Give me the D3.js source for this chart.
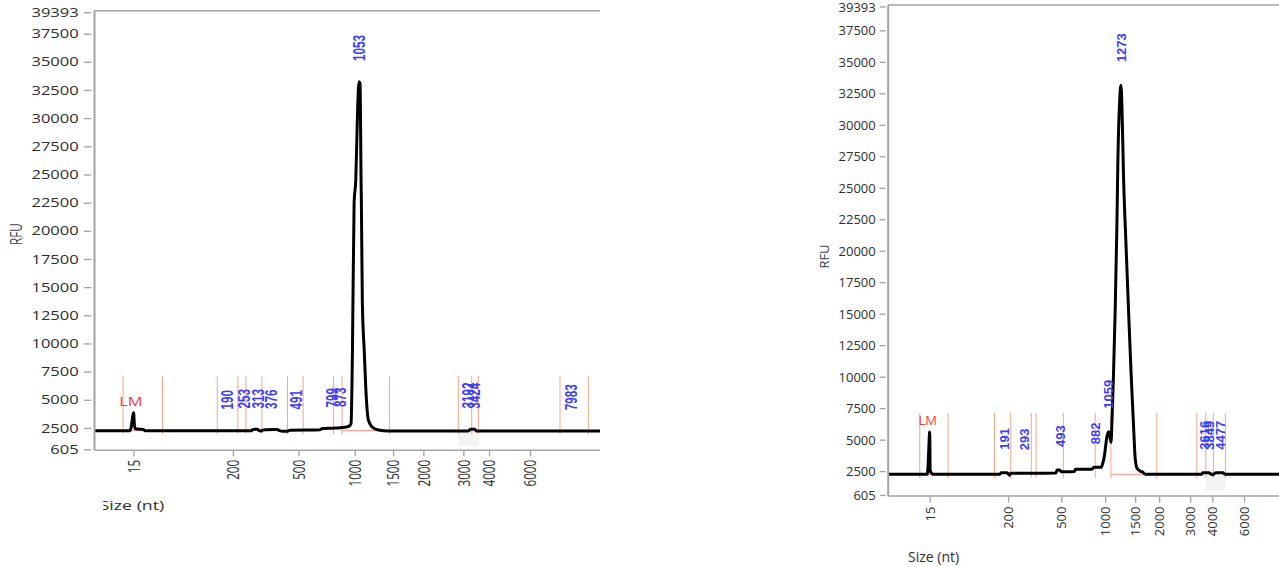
<!DOCTYPE html>
<html>
<head>
<meta charset="utf-8">
<script src="https://cdn.jsdelivr.net/npm/d3@7"></script>
<style>
  html, body { margin: 0; padding: 0; background: #ffffff; }
  svg { display: block; }
</style>
</head>
<body>
<svg id="chart" width="1279" height="567"></svg>
<script>
// ---- shared axis ticks ----
const rfuTicks = [605, 2500, 5000, 7500, 10000, 12500, 15000, 17500, 20000, 22500,
                  25000, 27500, 30000, 32500, 35000, 37500, 39393];
const sizeTicks = [15, 200, 500, 1000, 1500, 2000, 3000, 4000, 6000];
const rfuRange = [605, 39393];
const markerSpan = [1950, 7120];   // RFU span of the peak-boundary marks

// ---- run A: ladder calibration (size -> relative migration position) ----
const ladderSizeA = [0, 15, 200, 500, 1000, 1500, 2000, 3000, 4000, 6000];
const ladderPosA  = [0, 0.0771, 0.2737, 0.4034, 0.5149, 0.5907, 0.6506, 0.7297, 0.7805, 0.8616];

// run A trace: [size nt, RFU]
const traceA = [
  [0, 2256], [13.6, 2256], [14.2, 2650], [14.6, 3350], [15, 3850], [15.5, 3780], [16.3, 3050],
  [17.3, 2560], [18.8, 2430], [26, 2390], [33, 2370], [37, 2256],
  [286, 2256], [291, 2370], [312, 2385], [319, 2290], [326, 2225], [336, 2300], [348, 2350],
  [402, 2355], [414, 2260], [428, 2205], [450, 2215], [462, 2300], [600, 2310], [692, 2330],
  [706, 2430], [805, 2480], [875, 2520], [930, 2580], [956, 2700], [967, 2913], [979, 9126],
  [994, 22440], [1013, 24508], [1038, 31000], [1056, 33233], [1069, 33091], [1082, 24508],
  [1086, 22470], [1099, 13590], [1125, 9126], [1143, 6161], [1177, 3206], [1222, 2611],
  [1308, 2318], [1438, 2230],
  [3180, 2230], [3280, 2380], [3440, 2375], [3520, 2230], [9600, 2230]
];
const peakSizeA = [190, 253, 313, 376, 491, 799, 873, 1053, 3192, 3424, 7983];
const peakRfuA  = [2300, 2380, 2385, 2355, 2310, 2480, 2520, 33233, 2380, 2375, 2230];
const boundsA   = [11, 69, 171, 223, 260, 333, 450, 542, 812, 887, 1452, 2875, 3327, 3584, 7463, 8844];
const peakBaseA = [[11, 69], [887, 1452]];
const baseRfuA  = 2256;
const smearA    = [2875, 3584];
const markerA   = { size: 15, rfu: 3850, label: "LM" };

// ---- run B ----
const ladderSizeB = [0, 15, 200, 500, 1000, 1500, 2000, 3000, 4000, 6000];
const ladderPosB  = [0, 0.1063, 0.3067, 0.4429, 0.5553, 0.6320, 0.6933, 0.7726, 0.8296, 0.9106];

const traceB = [
  [0, 2247], [14.1, 2247], [14.4, 2950], [14.7, 4500], [14.95, 5600], [15.2, 5250], [15.6, 3380],
  [16, 2590], [17, 2450], [19.5, 2330], [22.3, 2247],
  [180, 2247], [184, 2374], [198, 2374], [203, 2250], [209, 2168], [215, 2326], [340, 2326],
  [470, 2345], [476, 2588], [490, 2588], [500, 2453], [570, 2453], [650, 2475], [660, 2643],
  [850, 2643], [870, 2802], [955, 2802], [975, 3200], [989, 3643], [1010, 4600], [1028, 5229],
  [1045, 5520], [1056, 5626], [1066, 5520], [1080, 5200], [1097, 4800], [1112, 6419],
  [1138, 10123], [1167, 15414], [1195, 22021], [1212, 27313], [1240, 31800], [1262, 33150],
  [1280, 31300], [1305, 25987], [1345, 20697], [1388, 15414], [1433, 10123], [1472, 6157],
  [1500, 3516], [1540, 2723], [1600, 2520], [1660, 2420], [1710, 2247],
  [3524, 2247], [3560, 2374], [3850, 2374], [3920, 2290], [4025, 2220], [4110, 2300],
  [4233, 2374], [4656, 2374], [4801, 2247], [9000, 2247]
];
const peakSizeB = [191, 293, 493, 882, 1059, 1273, 3616, 3849, 4477];
const peakRfuB  = [2374, 2326, 2588, 2802, 5626, 33150, 2374, 2374, 2374];
const boundsB   = [11.4, 58.4, 168, 215, 331, 358, 523, 886, 1095, 1952, 3300, 3704, 4063, 4820];
const peakBaseB = [[11.4, 58.4], [1095, 1952]];
const baseRfuB  = 2247;
const smearB    = [3704, 4820];
const markerB   = { size: 15, rfu: 5600, label: "LM" };

// ---- layout of the two panels ----
const panels = [
  { id: "a", x0: 94.5, x1: 600, yTop: 12.3, yBot: 449.3, sx: 1.27, sy: 0.9,
    ladder: ladderSizeA, pos: ladderPosA, trace: traceA, peaks: peakSizeA, peakRfu: peakRfuA,
    bounds: boundsA, peakBase: peakBaseA, baseRfu: baseRfuA, smear: smearA, marker: markerA,
    rfuLabel: [16, 234], sizeLabel: [99.5, 509.5], sizeClip: 103.3 },
  { id: "b", x0: 888.2, x1: 1279, yTop: 6.5, yBot: 495, sx: 1, sy: 1,
    ladder: ladderSizeB, pos: ladderPosB, trace: traceB, peaks: peakSizeB, peakRfu: peakRfuB,
    bounds: boundsB, peakBase: peakBaseB, baseRfu: baseRfuB, smear: smearB, marker: markerB,
    rfuLabel: [824, 256.5], sizeLabel: [908, 561.5], sizeClip: null }
];

const svg = d3.select("#chart");
const defs = svg.append("defs");
const axisColor = "#a3a3a3";
const tickTextColor = "#2e2e2e";
const uiFont = "'Open Sans', 'Noto Sans', sans-serif";

panels.forEach(p => {
  const w = p.x1 - p.x0;
  const x = d3.scaleLinear().domain(p.ladder).range(p.pos.map(f => p.x0 + f * w));
  const y = d3.scaleLinear().domain(rfuRange).range([p.yBot, p.yTop]);
  const g = svg.append("g").attr("class", "panel-" + p.id);
  const tx = (px, py, rot) => `translate(${px},${py}) scale(${p.sx},${p.sy})` + (rot ? " rotate(-90)" : "");

  defs.append("clipPath").attr("id", "plot-" + p.id)
    .append("rect").attr("x", p.x0).attr("y", p.yTop - 4).attr("width", w).attr("height", p.yBot - p.yTop + 4);

  // shaded smear region
  g.append("rect")
    .attr("x", x(p.smear[0])).attr("width", x(p.smear[1]) - x(p.smear[0]))
    .attr("y", y(p.baseRfu)).attr("height", y(rfuRange[0] + 300) - y(p.baseRfu))
    .attr("fill", "#f3f3f3");

  // peak boundary marks
  g.append("g").selectAll("line").data(p.bounds).join("line")
    .attr("x1", d => x(d)).attr("x2", d => x(d))
    .attr("y1", y(markerSpan[1])).attr("y2", y(markerSpan[0]))
    .attr("stroke", "#f6a689").attr("stroke-width", 1);

  // peak baselines
  g.append("g").selectAll("line").data(p.peakBase).join("line")
    .attr("x1", d => x(d[0])).attr("x2", d => x(d[1]))
    .attr("y1", y(p.baseRfu)).attr("y2", y(p.baseRfu))
    .attr("stroke", "#ff8a8a").attr("stroke-width", 1);

  // trace
  const line = d3.line().x(d => x(d[0])).y(d => y(d[1])).curve(d3.curveMonotoneX);
  g.append("path").datum(p.trace)
    .attr("clip-path", `url(#plot-${p.id})`)
    .attr("d", line).attr("fill", "none")
    .attr("stroke", "#000").attr("stroke-width", 3).attr("stroke-linejoin", "round");

  // frame: left axis, top and bottom lines
  g.append("line").attr("x1", p.x0).attr("x2", p.x0).attr("y1", p.yTop - 1.5).attr("y2", p.yBot + 1)
    .attr("stroke", axisColor).attr("stroke-width", 2);
  g.append("line").attr("x1", p.x0).attr("x2", p.x1).attr("y1", p.yTop - 1.5).attr("y2", p.yTop - 1.5)
    .attr("stroke", axisColor).attr("stroke-width", 1.5);
  g.append("line").attr("x1", p.x0).attr("x2", p.x1).attr("y1", p.yBot + 1).attr("y2", p.yBot + 1)
    .attr("stroke", axisColor).attr("stroke-width", 1.5);

  // y axis
  const yAxis = g.append("g").attr("transform", `translate(${p.x0 - 2.5 * p.sx},0)`)
    .call(d3.axisLeft(y).tickValues(rfuTicks).tickFormat(d3.format("d")).tickSizeOuter(0).tickSize(6 * p.sx));
  yAxis.select(".domain").remove();
  yAxis.selectAll(".tick line").attr("stroke", axisColor).attr("stroke-width", 1.3);
  yAxis.selectAll(".tick text")
    .attr("x", null).attr("dy", null)
    .attr("transform", `translate(${-10 * p.sx},0) scale(${p.sx},${p.sy})`)
    .attr("dy", "0.35em")
    .attr("fill", tickTextColor).attr("font-family", uiFont).attr("font-size", 13);

  // x axis
  const xAxis = g.append("g").attr("transform", `translate(0,${p.yBot + 1.5})`)
    .call(d3.axisBottom(x).tickValues(sizeTicks).tickFormat(d3.format("d")).tickSizeOuter(0).tickSize(6 * p.sy));
  xAxis.select(".domain").remove();
  xAxis.selectAll(".tick line").attr("stroke", axisColor).attr("stroke-width", 1.3);
  xAxis.selectAll(".tick text")
    .attr("y", null).attr("dy", null)
    .attr("transform", `translate(0,${10 * p.sy}) scale(${p.sx},${p.sy}) rotate(-90)`)
    .attr("text-anchor", "end").attr("dy", "0.35em")
    .attr("fill", tickTextColor).attr("font-family", uiFont).attr("font-size", 13);

  // peak size labels
  g.append("g").selectAll("text").data(p.peaks).join("text")
    .attr("transform", (d, i) => tx(x(d), y(p.peakRfu[i]) - 23 * p.sy, true))
    .attr("dy", "0.36em")
    .attr("text-anchor", "start")
    .attr("fill", "#3d3df5").attr("font-family", "'Liberation Sans', Arial, sans-serif")
    .attr("font-weight", "bold").attr("font-size", 13)
    .text(d => d);

  // lower marker label
  g.append("text")
    .attr("transform", tx(x(p.marker.size) - 2 * p.sx, y(p.marker.rfu) - 7.5 * p.sy, false))
    .attr("text-anchor", "middle")
    .attr("fill", "#f03c3c").attr("font-family", uiFont).attr("font-size", 13)
    .text(p.marker.label);

  // axis titles
  g.append("text")
    .attr("transform", tx(p.rfuLabel[0], p.rfuLabel[1], true))
    .attr("text-anchor", "middle").attr("dy", "0.35em")
    .attr("fill", "#3d4350").attr("font-family", uiFont).attr("font-size", 13)
    .text("RFU");

  const titleHolder = g.append("g");
  if (p.sizeClip !== null) {
    defs.append("clipPath").attr("id", "title-" + p.id)
      .append("rect").attr("x", p.sizeClip).attr("y", p.sizeLabel[1] - 20).attr("width", 120).attr("height", 30);
    titleHolder.attr("clip-path", `url(#title-${p.id})`);
  }
  titleHolder.append("text")
    .attr("transform", tx(p.sizeLabel[0], p.sizeLabel[1], false))
    .attr("fill", "#2e2e2e").attr("font-family", uiFont).attr("font-size", 14)
    .text("Size (nt)");
});
</script>
</body>
</html>
